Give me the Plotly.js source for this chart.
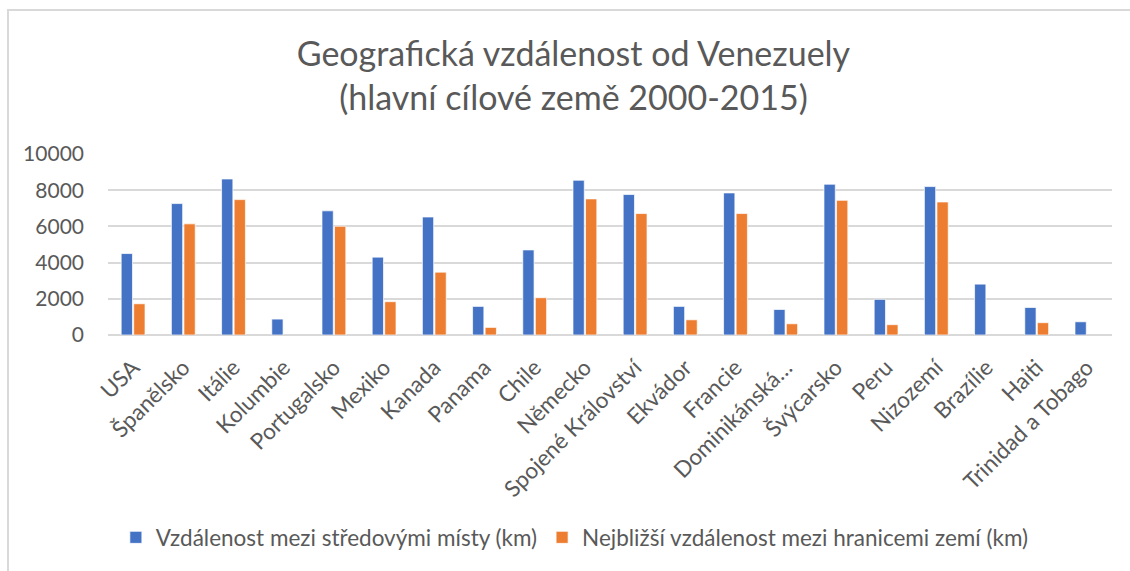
<!DOCTYPE html>
<html>
<head>
<meta charset="utf-8">
<script src="https://cdn.plot.ly/plotly-3.0.1.min.js"></script>
<style>
  html, body { margin: 0; padding: 0; background: #fff; }
  #wrap { position: relative; width: 1130px; height: 571px; }
  #chart { width: 1130px; height: 571px; }
  #frame { position: absolute; left: 7px; top: 9px; right: 0; bottom: 0;
           border-top: 2px solid #d9d9d9; border-left: 2px solid #d9d9d9;
           pointer-events: none; }
</style>
</head>
<body>
<div id="wrap">
  <div id="chart"></div>
  <div id="frame"></div>
</div>
<script>
const categories = ["USA", "Španělsko", "Itálie", "Kolumbie", "Portugalsko", "Mexiko", "Kanada",
  "Panama", "Chile", "Německo", "Spojené Království", "Ekvádor", "Francie", "Dominikánská…",
  "Švýcarsko", "Peru", "Nizozemí", "Brazílie", "Haiti", "Trinidad a Tobago"];

const centerDistance = [4500, 7260, 8620, 880, 6860, 4300, 6520,
  1580, 4700, 8550, 7760, 1580, 7850, 1410,
  8330, 1970, 8200, 2810, 1520, 730];

const borderDistance = [1725, 6140, 7480, null, 6010, 1840, 3470,
  420, 2060, 7520, 6710, 840, 6710, 620,
  7440, 570, 7350, null, 680, null];

const seriesNames = ["Vzdálenost mezi středovými místy (km)", "Nejbližší vzdálenost mezi hranicemi zemí (km)"];
const tickValues = [0, 2000, 4000, 6000, 8000, 10000];

const FONT = "Lato, 'Open Sans', sans-serif";
const GREY = "#595959";

const traces = [
  { type: "bar", name: seriesNames[0], x: categories, y: centerDistance,
    marker: { color: "#4472C4", line: { color: "rgba(255,255,255,0.7)", width: 1 } } },
  { type: "bar", name: seriesNames[1], x: categories, y: borderDistance,
    marker: { color: "#ED7D31", line: { color: "rgba(255,255,255,0.7)", width: 1 } } }
];

const layout = {
  width: 1130, height: 571,
  margin: { l: 108, r: 18, t: 154, b: 236 },
  paper_bgcolor: "#fff", plot_bgcolor: "#fff",
  font: { family: FONT, color: GREY, size: 21 },
  title: {
    text: "Geografická vzdálenost od Venezuely<br>(hlavní cílové země 2000-2015)",
    font: { family: FONT, size: 34, color: GREY },
    x: 0.5075, xref: "container", xanchor: "center",
    y: 0.885, yref: "container", yanchor: "top"
  },
  barmode: "group", bargap: 0.5, bargroupgap: 0.1,
  xaxis: {
    type: "category", tickangle: -45, showgrid: false, zeroline: false,
    showline: false, ticks: "", tickfont: { family: FONT, size: 22.5, color: GREY },
    ticklabelstandoff: 14
  },
  yaxis: {
    range: [0, 10000], tickvals: tickValues, ticktext: tickValues.map(String),
    showgrid: true, gridcolor: "#d9d9d9", gridwidth: 2, zeroline: true,
    zerolinecolor: "#d9d9d9", zerolinewidth: 2, showline: false, ticks: "",
    tickfont: { family: FONT, size: 21, color: GREY }, ticklabelstandoff: 23
  },
  showlegend: true,
  legend: {
    orientation: "h", x: 0.465, xanchor: "center", y: -1.12, yanchor: "middle",
    font: { family: FONT, size: 22.5, color: GREY }, traceorder: "normal"
  }
};

Plotly.newPlot("chart", traces, layout, { displayModeBar: false, staticPlot: true });
</script>
</body>
</html>
